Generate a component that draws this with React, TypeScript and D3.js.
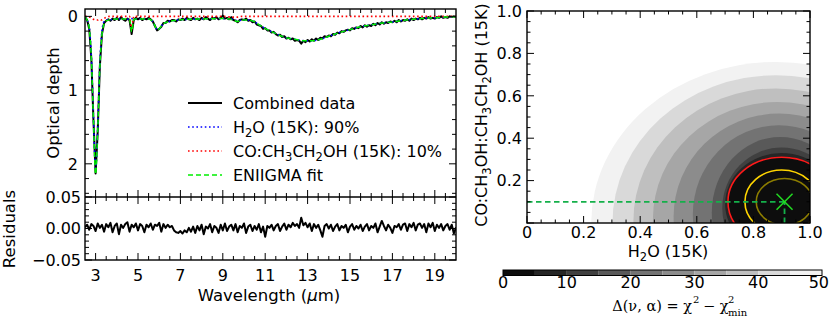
import * as d3 from "d3";

const FONT = "'DejaVu Sans', sans-serif";

// combined spectrum, sampled every 0.1 micron starting at 2.5
const waveStart = 2.5;
const waveStep = 0.1;
const dataTau = [
  0.01, 0.05, 0.17, 0.58, 1.42, 2.13, 1.56, 0.68, 0.24, 0.09,
  0.06, 0.04, 0.06, 0.03, 0.05, 0.02, 0.05, 0.01, 0.04, 0.06,
  0.03, 0.05, 0.24, 0.05, 0.02, 0.04, 0.02, 0.05, 0.03, 0.04,
  0.02, 0.04, 0.07, 0.13, 0.19, 0.17, 0.14, 0.09, 0.09, 0.06,
  0.07, 0.05, 0.05, 0.07, 0.04, 0.05, 0.03, 0.05, 0.02, 0.04,
  0.05, 0.02, 0.04, 0.03, 0.05, 0.02, 0.04, 0.01, 0.03, 0.05,
  0.02, 0.03, 0.01, 0.04, 0.02, -0.01, 0.03, 0.02, 0.04, 0.01,
  0.05, 0.06, 0.08, 0.05, 0.04, 0.05, 0.03, 0.06, 0.05, 0.08,
  0.07, 0.11, 0.12, 0.13, 0.17, 0.16, 0.19, 0.19, 0.22, 0.21,
  0.24, 0.26, 0.25, 0.28, 0.27, 0.30, 0.29, 0.31, 0.30, 0.33,
  0.32, 0.33, 0.37, 0.33, 0.35, 0.32, 0.34, 0.31, 0.33, 0.30,
  0.32, 0.29, 0.30, 0.27, 0.28, 0.26, 0.27, 0.24, 0.25, 0.22,
  0.23, 0.20, 0.21, 0.19, 0.18, 0.19, 0.16, 0.17, 0.15, 0.16,
  0.13, 0.15, 0.12, 0.14, 0.12, 0.13, 0.10, 0.12, 0.09, 0.11,
  0.08, 0.10, 0.08, 0.09, 0.07, 0.08, 0.06, 0.08, 0.05, 0.07,
  0.05, 0.06, 0.04, 0.06, 0.03, 0.05, 0.03, 0.04, 0.02, 0.04,
  0.02, 0.03, 0.01, 0.03, 0.02, 0.03, 0.01, 0.02, 0.00, 0.02,
  0.01, 0.02, 0.00, 0.01, 0.00, 0.01,
];
const residuals = [
  0.002, 0.006, -0.002, 0.007, 0.004, -0.004, 0.008, 0.001, 0.006, -0.005,
  0.007, 0.002, 0.009, -0.006, 0.004, 0.008, -0.009, 0.006, 0.001, 0.007,
  0.010, -0.005, 0.006, 0.002, 0.008, -0.003, 0.007, 0.004, -0.006, 0.006,
  0.002, 0.008, -0.002, 0.006, 0.004, 0.009, -0.005, 0.007, 0.001, 0.006,
  0.002, 0.004, -0.003, -0.006, -0.007, -0.004, -0.008, -0.003, -0.006, 0.001,
  -0.005, 0.003, -0.007, 0.004, -0.003, 0.006, -0.009, 0.003, 0.0, 0.007,
  -0.006, 0.004, 0.001, -0.007, 0.006, -0.003, 0.008, -0.004, 0.003, 0.006,
  -0.003, 0.007, -0.006, 0.004, 0.001, 0.008, -0.007, 0.003, 0.006, -0.004,
  0.004, -0.002, 0.007, -0.006, 0.003, -0.013, 0.004, 0.001, 0.006, -0.003,
  0.004, 0.007, -0.004, 0.003, 0.008, -0.002, 0.006, 0.002, 0.009, 0.004,
  0.007, 0.001, 0.017, 0.005, 0.009, 0.002, 0.008, -0.004, 0.007, 0.001,
  0.006, -0.003, -0.013, 0.004, 0.007, 0.0, 0.006, -0.004, 0.003, 0.007,
  -0.003, 0.004, 0.001, 0.006, -0.006, 0.003, 0.007, -0.002, 0.004, 0.0,
  0.006, -0.004, 0.003, 0.007, -0.003, 0.004, 0.001, 0.008, -0.006, 0.003,
  0.012, 0.004, -0.003, 0.006, 0.001, -0.007, 0.004, 0.002, 0.007, -0.002,
  0.006, 0.008, -0.004, 0.007, 0.002, 0.009, -0.003, 0.006, 0.008, 0.001,
  0.007, -0.006, 0.008, 0.002, 0.009, -0.004, 0.006, 0.001, 0.007, -0.003,
  0.004, 0.007, -0.002, 0.006, -0.008, 0.002,
];

// model components
const modelWave = [
  2.5, 2.6, 2.7, 2.8, 2.9, 3.0, 3.1, 3.2, 3.3, 3.4,
  3.5, 3.7, 4.0, 4.3, 4.6, 4.7, 4.8, 5.0, 5.5, 5.7,
  5.8, 5.9, 6.0, 6.1, 6.2, 6.4, 6.7, 7.0, 8.0, 9.0,
  9.5, 9.7, 9.9, 10.2, 10.5, 10.8, 11.1, 11.4, 11.7, 12.0,
  12.4, 12.8, 13.2, 13.6, 14.0, 14.5, 15.0, 15.5, 16.0, 16.5,
  17.0, 17.5, 18.0, 18.5, 19.0, 19.5, 20.0,
];
const fitTau = [
  0.01, 0.05, 0.16, 0.57, 1.41, 2.14, 1.55, 0.69, 0.25, 0.10,
  0.06, 0.045, 0.035, 0.035, 0.04, 0.21, 0.04, 0.035, 0.035, 0.07,
  0.13, 0.18, 0.17, 0.13, 0.10, 0.075, 0.055, 0.045, 0.035, 0.03,
  0.05, 0.07, 0.05, 0.05, 0.075, 0.13, 0.18, 0.22, 0.26, 0.29,
  0.31, 0.33, 0.33, 0.31, 0.27, 0.22, 0.18, 0.14, 0.115, 0.09,
  0.075, 0.055, 0.04, 0.025, 0.02, 0.01, 0.005,
];
const h2oTau = [
  0.01, 0.05, 0.15, 0.55, 1.37, 2.09, 1.50, 0.65, 0.20, 0.07,
  0.05, 0.045, 0.035, 0.035, 0.04, 0.03, 0.04, 0.035, 0.035, 0.07,
  0.13, 0.18, 0.17, 0.13, 0.10, 0.075, 0.055, 0.045, 0.035, 0.03,
  0.04, 0.06, 0.05, 0.05, 0.075, 0.13, 0.18, 0.22, 0.26, 0.29,
  0.31, 0.33, 0.33, 0.31, 0.27, 0.22, 0.18, 0.14, 0.115, 0.09,
  0.075, 0.055, 0.04, 0.025, 0.02, 0.01, 0.005,
];
const coTau = [
  0.0, 0.0, 0.01, 0.02, 0.04, 0.05, 0.05, 0.04, 0.05, 0.03,
  0.01, 0.0, 0.0, 0.0, 0.0, 0.18, 0.0, 0.0, 0.0, 0.0,
  0.0, 0.0, 0.0, 0.0, 0.0, 0.0, 0.0, 0.0, 0.0, 0.0,
  0.01, 0.01, 0.0, 0.0, 0.0, 0.0, 0.0, 0.0, 0.0, 0.0,
  0.0, 0.0, 0.0, 0.0, 0.0, 0.0, 0.0, 0.0, 0.0, 0.0,
  0.0, 0.0, 0.0, 0.0, 0.0, 0.0, 0.0,
];

const waveTicks = [3, 5, 7, 9, 11, 13, 15, 17, 19];
const tauTicks = [0, 1, 2];
const resTicks = [-0.05, 0.0, 0.05];

// chi-square map: each filled level drawn as an ellipse
const bandLevels = [50, 45, 40, 35, 30, 25, 20, 15, 10, 5];
const bandLeft = [0.227, 0.302, 0.376, 0.445, 0.518, 0.586, 0.653, 0.69, 0.7, 0.708];
const bandTop = [0.76, 0.697, 0.635, 0.571, 0.516, 0.461, 0.406, 0.356, 0.33, 0.312];
const bandCx = [0.88, 0.88, 0.88, 0.885, 0.89, 0.89, 0.895, 0.9, 0.9, 0.9];
const bandCy = [0.0, 0.0, 0.01, 0.02, 0.03, 0.04, 0.05, 0.07, 0.09, 0.1];

// confidence contours
const sigmaColors = ["#ff1a1a", "#ffd500", "#8c7d00"];
const sigmaCx = [0.9, 0.9, 0.91];
const sigmaCy = [0.1, 0.1, 0.1];
const sigmaRx = [0.19, 0.13, 0.1];
const sigmaRy = [0.21, 0.15, 0.11];

const bestH2O = 0.91;
const bestCO = 0.1;

const mapTicks = [0, 0.2, 0.4, 0.6, 0.8, 1.0];
const cbarTicks = [0, 10, 20, 30, 40, 50];

const gray = (v: number) => {
  const g = Math.round(v * 255);
  return d3.rgb(g, g, g).formatHex();
};

// text with subscripts: "_x" parts are lowered
const Chem = ({ parts }: { parts: string[] }) => (
  <>
    {parts.map((p, i) => {
      const sub = p.startsWith("_");
      const prevSub = i > 0 && parts[i - 1].startsWith("_");
      const dy = sub ? 4 : prevSub ? -4 : 0;
      return (
        <tspan key={i} dy={dy} fontSize={sub ? "0.72em" : undefined}>
          {sub ? p.slice(1) : p}
        </tspan>
      );
    })}
  </>
);

export default function App() {
  // left panels
  const x0 = 85, x1 = 456, top = 9, mid = 197, bot = 260;
  const xW = d3.scaleLinear().domain([2.5, 20]).range([x0, x1]);
  const yTau = d3.scaleLinear().domain([-0.1, 2.45]).range([top, mid]);
  const yRes = d3.scaleLinear().domain([-0.05, 0.05]).range([bot, mid]);

  const dataWave = dataTau.map((_, i) => waveStart + i * waveStep);
  const dataPath = d3.line<number>().x((_, i) => xW(dataWave[i])).y((d) => yTau(d))(dataTau) || "";
  const resPath = d3.line<number>().x((_, i) => xW(dataWave[i])).y((d) => yRes(d))(residuals) || "";
  const modelPath = (vals: number[]) =>
    d3.line<number>().x((_, i) => xW(modelWave[i])).y((d) => yTau(d)).curve(d3.curveMonotoneX)(vals) || "";

  const waveMinor = d3.range(3, 20, 0.5);
  const tauMinor = d3.range(0, 2.41, 0.2);
  const resMinor = d3.range(-0.05, 0.0501, 0.01);

  // right panel
  const mx0 = 527, mx1 = 810, my0 = 223, my1 = 11;
  const xm = d3.scaleLinear().domain([0, 1]).range([mx0, mx1]);
  const ym = d3.scaleLinear().domain([0, 1]).range([my0, my1]);
  const mapMinor = d3.range(0, 1.001, 0.05);

  const cb = d3.scaleLinear().domain([0, 50]).range([503, 822]);
  const cbY = 270, cbH = 5.5;

  const legendRows = [
    { stroke: "#000", dash: undefined as string | undefined, w: 2, y: 103 },
    { stroke: "#0000ff", dash: "1.6,2.6", w: 1.6, y: 127 },
    { stroke: "#ff0000", dash: "1.6,2.6", w: 1.6, y: 151 },
    { stroke: "#00ee00", dash: "5,3", w: 1.5, y: 175 },
  ];

  const tickStroke = { stroke: "#000", strokeWidth: 1 };

  return (
    <svg width={830} height={318} style={{ position: "absolute", left: 0, top: 0 }} fontFamily={FONT}>
      <defs>
        <clipPath id="clipTop"><rect x={x0} y={top} width={x1 - x0} height={mid - top} /></clipPath>
        <clipPath id="clipRes"><rect x={x0} y={mid} width={x1 - x0} height={bot - mid} /></clipPath>
        <clipPath id="clipMap"><rect x={mx0} y={my1} width={mx1 - mx0} height={my0 - my1} /></clipPath>
      </defs>
      <rect width={830} height={318} fill="#fff" />

      {/* spectrum panel */}
      <g clipPath="url(#clipTop)">
        <path d={dataPath} fill="none" stroke="#000" strokeWidth={2} strokeLinejoin="round" />
        <path d={modelPath(h2oTau)} fill="none" stroke="#0000ff" strokeWidth={1.6} strokeDasharray="1.6,2.6" />
        <path d={modelPath(coTau)} fill="none" stroke="#ff0000" strokeWidth={1.6} strokeDasharray="1.6,2.6" />
        <path d={modelPath(fitTau)} fill="none" stroke="#00ee00" strokeWidth={1.5} strokeDasharray="5,3" />
      </g>

      {/* residual panel */}
      <g clipPath="url(#clipRes)">
        <path d={resPath} fill="none" stroke="#000" strokeWidth={2} strokeLinejoin="round" />
      </g>

      {/* left ticks */}
      <g {...tickStroke}>
        {waveMinor.map((v) => {
          const major = waveTicks.includes(v);
          const len = major ? 7 : 4;
          const x = xW(v);
          return (
            <g key={"wt" + v}>
              <line x1={x} x2={x} y1={top} y2={top + len} />
              <line x1={x} x2={x} y1={mid} y2={mid - len} />
              <line x1={x} x2={x} y1={mid} y2={mid + len} />
              <line x1={x} x2={x} y1={bot} y2={bot - len} />
            </g>
          );
        })}
        {tauMinor.map((v) => {
          const major = tauTicks.some((t) => Math.abs(t - v) < 1e-6);
          const len = major ? 7 : 4;
          const y = yTau(v);
          return (
            <g key={"tt" + v}>
              <line x1={x0} x2={x0 + len} y1={y} y2={y} />
              <line x1={x1} x2={x1 - len} y1={y} y2={y} />
            </g>
          );
        })}
        {resMinor.map((v) => {
          const major = resTicks.some((t) => Math.abs(t - v) < 1e-6);
          const len = major ? 7 : 4;
          const y = yRes(v);
          return (
            <g key={"rt" + v}>
              <line x1={x0} x2={x0 + len} y1={y} y2={y} />
              <line x1={x1} x2={x1 - len} y1={y} y2={y} />
            </g>
          );
        })}
      </g>
      <rect x={x0} y={top} width={x1 - x0} height={bot - top} fill="none" stroke="#000" strokeWidth={1.4} />
      <line x1={x0} x2={x1} y1={mid} y2={mid} stroke="#000" strokeWidth={1.4} />

      {/* left tick labels */}
      <g fontSize={16} fill="#000">
        {tauTicks.map((v) => (
          <text key={"tl" + v} x={x0 - 7} y={yTau(v)} dy="0.36em" textAnchor="end">{v}</text>
        ))}
        {resTicks.map((v) => (
          <text key={"rl" + v} x={x0 - 4} y={yRes(v)} dy="0.36em" textAnchor="end">{d3.format(".2f")(v)}</text>
        ))}
        {waveTicks.map((v) => (
          <text key={"wl" + v} x={xW(v)} y={281} textAnchor="middle">{v}</text>
        ))}
      </g>
      <g fontSize={16.5} fill="#000">
        <text x={269} y={301} textAnchor="middle">Wavelength (<tspan fontStyle="italic">μ</tspan>m)</text>
        <text transform="translate(59,103) rotate(-90)" textAnchor="middle">Optical depth</text>
        <text transform="translate(15,229) rotate(-90)" textAnchor="middle">Residuals</text>
      </g>

      {/* legend */}
      {legendRows.map((r, i) => (
        <line key={"lg" + i} x1={188} x2={222} y1={r.y} y2={r.y} stroke={r.stroke}
          strokeWidth={r.w} strokeDasharray={r.dash} />
      ))}
      <g fontSize={16} fill="#000">
        <text x={233} y={108.5}>Combined data</text>
        <text x={233} y={132.5}><Chem parts={["H", "_2", "O (15K): 90%"]} /></text>
        <text x={233} y={156.5}><Chem parts={["CO:CH", "_3", "CH", "_2", "OH (15K): 10%"]} /></text>
        <text x={233} y={180.5}>ENIIGMA fit</text>
      </g>

      {/* chi-square map */}
      <g clipPath="url(#clipMap)">
        {bandLevels.map((lvl, i) => {
          const cx = xm(bandCx[i]);
          const cy = ym(bandCy[i]);
          return (
            <ellipse key={"b" + lvl} cx={cx} cy={cy}
              rx={cx - xm(bandLeft[i])} ry={cy - ym(bandTop[i])}
              fill={gray((lvl - 2.5) / 50)} />
          );
        })}
        {sigmaColors.map((c, i) => {
          const cx = xm(sigmaCx[i]);
          const cy = ym(sigmaCy[i]);
          return (
            <ellipse key={"s" + i} cx={cx} cy={cy}
              rx={xm(sigmaCx[i] + sigmaRx[i]) - cx} ry={cy - ym(sigmaCy[i] + sigmaRy[i])}
              fill="none" stroke={c} strokeWidth={1.6} />
          );
        })}
        <line x1={xm(0)} x2={xm(bestH2O)} y1={ym(bestCO)} y2={ym(bestCO)}
          stroke="#14b04a" strokeWidth={1.8} strokeDasharray="5.5,3.5" />
        <line x1={xm(bestH2O)} x2={xm(bestH2O)} y1={ym(0)} y2={ym(bestCO)}
          stroke="#14b04a" strokeWidth={1.8} strokeDasharray="5.5,3.5" />
        <g stroke="#22dd22" strokeWidth={1.5}>
          <line x1={xm(bestH2O) - 8} x2={xm(bestH2O) + 8} y1={ym(bestCO) - 8} y2={ym(bestCO) + 8} />
          <line x1={xm(bestH2O) - 8} x2={xm(bestH2O) + 8} y1={ym(bestCO) + 8} y2={ym(bestCO) - 8} />
        </g>
      </g>
      <g {...tickStroke}>
        {mapMinor.map((v) => {
          const major = mapTicks.some((t) => Math.abs(t - v) < 1e-6);
          const len = major ? 7 : 3.5;
          const x = xm(v);
          const y = ym(v);
          return (
            <g key={"mt" + v}>
              <line x1={x} x2={x} y1={my0} y2={my0 - len} />
              <line x1={x} x2={x} y1={my1} y2={my1 + len} />
              <line x1={mx0} x2={mx0 + len} y1={y} y2={y} />
              <line x1={mx1} x2={mx1 - len} y1={y} y2={y} />
            </g>
          );
        })}
      </g>
      <rect x={mx0} y={my1} width={mx1 - mx0} height={my0 - my1} fill="none" stroke="#000" strokeWidth={1.4} />
      <g fontSize={16} fill="#000">
        {mapTicks.map((v) => (
          <text key={"mx" + v} x={xm(v)} y={238} textAnchor="middle">{v === 0 ? "0" : d3.format(".1f")(v)}</text>
        ))}
        {mapTicks.filter((v) => v > 0).map((v) => (
          <text key={"my" + v} x={mx0 - 5} y={ym(v)} dy="0.36em" textAnchor="end">{d3.format(".1f")(v)}</text>
        ))}
        <text x={668} y={257} textAnchor="middle"><Chem parts={["H", "_2", "O (15K)"]} /></text>
        <text transform="translate(487,115) rotate(-90)" textAnchor="middle">
          <Chem parts={["CO:CH", "_3", "OH:CH", "_3", "CH", "_2", "OH (15K)"]} />
        </text>
      </g>

      {/* colorbar */}
      {d3.range(0, 50, 5).map((v) => (
        <rect key={"cb" + v} x={cb(v)} y={cbY} width={cb(v + 5) - cb(v)} height={cbH}
          fill={gray((v + 2.5) / 50)} />
      ))}
      <rect x={cb(0)} y={cbY} width={cb(50) - cb(0)} height={cbH} fill="none" stroke="#000" strokeWidth={1} />
      <g fontSize={16} fill="#000">
        {cbarTicks.map((v) => (
          <text key={"cl" + v} x={v === 50 ? 829 : cb(v)} y={288} textAnchor={v === 50 ? "end" : "middle"}>{v}</text>
        ))}
      </g>
      <g fontFamily="'DejaVu Serif', serif" fontSize={14.5} fill="#000">
        <text x={692} y={311} textAnchor="end">Δ(ν, α) = χ</text>
        <text x={693} y={303} fontSize={10}>2</text>
        <text x={703} y={311}>− χ</text>
        <text x={728} y={302.5} fontSize={10}>2</text>
        <text x={728} y={316} fontSize={10}>min</text>
      </g>
    </svg>
  );
}
